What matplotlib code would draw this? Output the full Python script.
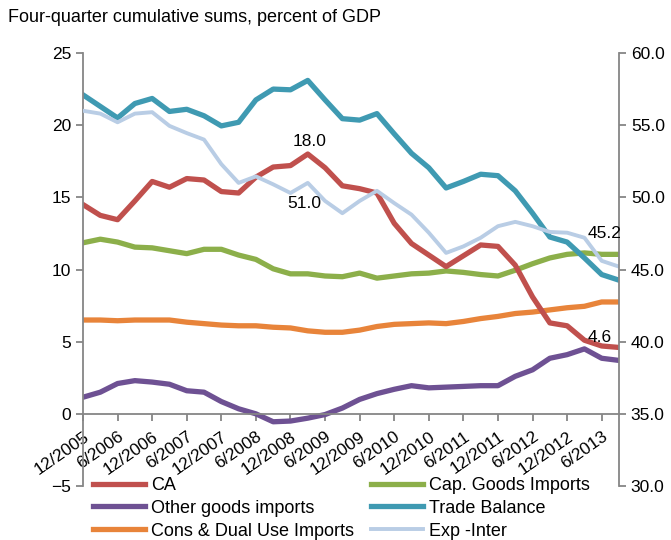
import matplotlib
matplotlib.use("Agg")
import matplotlib.pyplot as plt
import numpy as np

plt.rcParams['font.family'] = ['Liberation Sans', 'DejaVu Sans']

# region #! donnees (trimestres 12/2005 .. 9/2013)
tick_labels = ["12/2005", "6/2006", "12/2006", "6/2007", "12/2007", "6/2008",
               "12/2008", "6/2009", "12/2009", "6/2010", "12/2010", "6/2011",
               "12/2011", "6/2012", "12/2012", "6/2013"]

ca = [14.5, 13.75, 13.45, 14.75, 16.1, 15.7, 16.3, 16.2, 15.4, 15.3, 16.4, 17.1,
      17.2, 18.0, 17.05, 15.8, 15.6, 15.3, 13.2, 11.8, 11.0, 10.2, 10.95, 11.7,
      11.6, 10.3, 8.1, 6.3, 6.1, 5.1, 4.7, 4.6]
cap_goods = [11.85, 12.1, 11.9, 11.55, 11.5, 11.3, 11.1, 11.4, 11.4, 11.0, 10.7, 10.05,
             9.7, 9.7, 9.55, 9.5, 9.75, 9.4, 9.55, 9.7, 9.75, 9.9, 9.8, 9.65,
             9.55, 9.95, 10.4, 10.8, 11.05, 11.15, 11.05, 11.05]
other_goods = [1.15, 1.5, 2.1, 2.3, 2.2, 2.05, 1.6, 1.5, 0.85, 0.35, 0.0, -0.55,
               -0.5, -0.3, -0.05, 0.4, 1.0, 1.4, 1.7, 1.95, 1.8, 1.85, 1.9, 1.95,
               1.95, 2.6, 3.05, 3.85, 4.1, 4.5, 3.85, 3.7]
trade_balance = [22.1, 21.3, 20.5, 21.5, 21.85, 20.95, 21.1, 20.65, 19.95, 20.2, 21.75, 22.5,
                 22.45, 23.1, 21.75, 20.45, 20.35, 20.8, 19.4, 18.05, 17.05, 15.65, 16.1, 16.6,
                 16.5, 15.45, 13.9, 12.25, 11.9, 10.8, 9.65, 9.26]
cons_dual = [6.5, 6.5, 6.45, 6.5, 6.5, 6.5, 6.35, 6.25, 6.15, 6.1, 6.1, 6.0,
             5.95, 5.75, 5.65, 5.65, 5.8, 6.05, 6.2, 6.25, 6.3, 6.25, 6.4, 6.6,
             6.75, 6.95, 7.05, 7.2, 7.35, 7.45, 7.75, 7.75]
# axe de droite
exp_inter = [56.0, 55.8, 55.2, 55.8, 55.9, 54.95, 54.45, 54.0, 52.3, 51.0, 51.45, 50.9,
             50.3, 51.0, 49.75, 48.9, 49.75, 50.45, 49.6, 48.8, 47.55, 46.15, 46.6, 47.2,
             48.0, 48.3, 48.0, 47.6, 47.55, 47.2, 45.6, 45.2]
# endregion

c_ca = '#C0504D'
c_cap = '#8CAF4A'
c_other = '#6E5193'
c_trade = '#3F9AB2'
c_cons = '#E8843A'
c_exp = '#B9CDE5'
gris = '#868686'
lw = 3.8
fs = 12.5

x = np.arange(len(ca))

fig = plt.figure(figsize=(6.71, 5.40), dpi=100)
ax = fig.add_axes([83/671, 1-486/540, (619-83)/671, (486-53)/540])

l_cons, = ax.plot(x, cons_dual, color=c_cons, lw=lw, solid_joinstyle='round')
l_cap, = ax.plot(x, cap_goods, color=c_cap, lw=lw, solid_joinstyle='round')
l_other, = ax.plot(x, other_goods, color=c_other, lw=lw, solid_joinstyle='round')
l_trade, = ax.plot(x, trade_balance, color=c_trade, lw=lw, solid_joinstyle='round')
l_ca, = ax.plot(x, ca, color=c_ca, lw=lw, solid_joinstyle='round')

ax.set_xlim(0, len(ca)-1)
ax.set_ylim(-5, 25)
ax.set_yticks(range(-5, 26, 5))
ax.set_xticks(x[::2])
ax.set_xticklabels(tick_labels)
ax.spines['bottom'].set_position(('data', 0))
ax.spines['top'].set_visible(False)
ax.spines['right'].set_visible(False)
for s in ['left', 'bottom']:
    ax.spines[s].set_color(gris)
    ax.spines[s].set_linewidth(1.3)
ax.tick_params(axis='both', colors=gris, labelcolor='black', labelsize=fs, length=5, width=1.3)
ax.tick_params(axis='x', pad=6)

# axe secondaire
ax2 = ax.twinx()
l_exp, = ax2.plot(x, exp_inter, color=c_exp, lw=2.8, solid_joinstyle='round')
ax2.set_ylim(30, 60)
ax2.set_yticks(range(30, 61, 5))
ax2.set_yticklabels([f"{v:.1f}" for v in range(30, 61, 5)])
for s in ['top', 'left', 'bottom']:
    ax2.spines[s].set_visible(False)
ax2.spines['right'].set_color(gris)
ax2.spines['right'].set_linewidth(1.3)
ax2.tick_params(axis='y', colors=gris, labelcolor='black', labelsize=fs, length=5, width=1.3)

# rotation des dates (apres tick_params sinon elle est perdue)
plt.setp(ax.get_xticklabels(), rotation=35, ha='right', va='top', rotation_mode='anchor')

# etiquettes de valeurs
ax.annotate(f"{ca[13]:.1f}", (13, ca[13]), xytext=(2, 13), textcoords='offset pixels',
            ha='center', va='center', fontsize=fs)
ax.annotate(f"{ca[-1]:.1f}", (x[-1], ca[-1]), xytext=(-19, 10), textcoords='offset pixels',
            ha='center', va='center', fontsize=fs)
ax2.annotate(f"{exp_inter[13]:.1f}", (13, exp_inter[13]), xytext=(-3, -21), textcoords='offset pixels',
             ha='center', va='center', fontsize=fs)
ax2.annotate(f"{exp_inter[-1]:.1f}", (x[-1], exp_inter[-1]), xytext=(-14, 33), textcoords='offset pixels',
             ha='center', va='center', fontsize=fs)

fig.text(8/671, 1-18/540, "Four-quarter cumulative sums, percent of GDP", fontsize=13, va='center')

# legende (2 colonnes, remplissage par colonne)
handles = [l_ca, l_other, l_cons, l_cap, l_trade, l_exp]
labels = ["CA", "Other goods imports", "Cons & Dual Use Imports",
          "Cap. Goods Imports", "Trade Balance", "Exp -Inter"]
fig.legend(handles, labels, ncol=2, loc='upper left', bbox_to_anchor=(93/671, 1-477/540),
           frameon=False, fontsize=13, handlelength=2.9, handletextpad=0.3,
           labelspacing=0.32, columnspacing=0.95, borderpad=0, borderaxespad=0)

fig.savefig("out.png", dpi=100)
